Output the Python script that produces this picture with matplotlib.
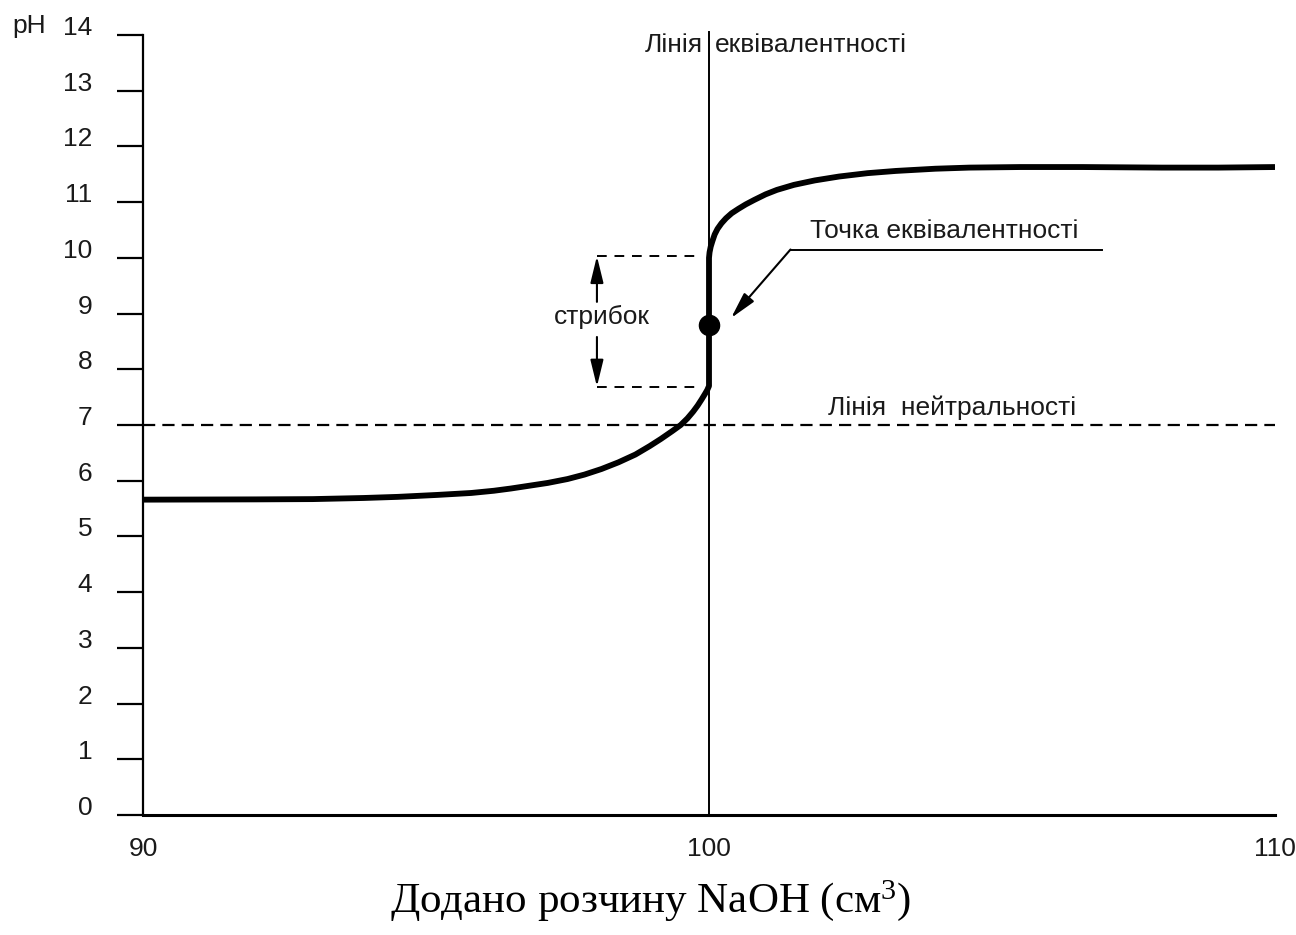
import matplotlib
matplotlib.use("Agg")
import matplotlib.pyplot as plt
from matplotlib import font_manager as fm

# ---- data ----
volume = [90, 92, 93, 93.9, 94.5, 95.2, 95.8, 96.2, 96.5, 97.15, 97.5, 97.8, 98.1,
          98.4, 98.7, 98.95, 99.15, 99.35, 99.5, 99.62, 99.72, 99.8, 99.87, 99.93,
          99.97, 100.0, 100.0, 100.0,
          100.01, 100.03, 100.06, 100.1, 100.15, 100.22, 100.3, 100.4, 100.52,
          100.65, 100.8, 101.0, 101.2, 101.5, 101.87, 102.3, 102.8, 103.3, 104.0,
          104.6, 105.5, 106.6, 108.0, 109.0, 110]
ph = [5.66, 5.665, 5.67, 5.69, 5.71, 5.745, 5.78, 5.82, 5.86, 5.96, 6.03, 6.11, 6.21,
      6.33, 6.47, 6.62, 6.75, 6.89, 7.0, 7.12, 7.24, 7.35, 7.46, 7.56,
      7.63, 7.7, 8.8, 10.0,
      10.1, 10.2, 10.3, 10.42, 10.52, 10.62, 10.71, 10.8, 10.88,
      10.96, 11.04, 11.14, 11.22, 11.31, 11.39, 11.46, 11.52, 11.56, 11.6,
      11.62, 11.63, 11.63, 11.62, 11.62, 11.63]

equiv_volume = 100
equiv_ph = 8.8
neutral_ph = 7
jump_low, jump_high = 7.69, 10.03
jump_x = 98.02

y_ticks = list(range(0, 15))
x_ticks = [90, 100, 110]

# ---- fonts ----
names = {f.name for f in fm.fontManager.ttflist}
sans = 'Liberation Sans Narrow' if 'Liberation Sans Narrow' in names else 'Liberation Sans'
serif = 'Liberation Serif'
plt.rcParams['font.family'] = [sans, 'DejaVu Sans']
plt.rcParams['mathtext.fontset'] = 'custom'
plt.rcParams['mathtext.rm'] = serif
plt.rcParams['mathtext.default'] = 'regular'

fs = 21 if sans.endswith('Narrow') else 19
txt = '#1a1a1a'

fig = plt.figure(figsize=(12.96, 9.35), dpi=100)
W, H = 1296, 935
ax = fig.add_axes([143 / W, 1 - 815 / H, (1275 - 143) / W, (815 - 35) / H])
ax.set_xlim(90, 110)
ax.set_ylim(0, 14)

for s in ['top', 'right']:
    ax.spines[s].set_visible(False)
ax.spines['left'].set_linewidth(1.6)
ax.spines['bottom'].set_linewidth(2.2)

ax.set_yticks(y_ticks)
ax.set_yticklabels([str(v) for v in y_ticks], fontsize=fs, color=txt, va='baseline')
ax.tick_params(axis='y', length=18.5, width=1.6, pad=18, direction='out')
ax.set_xticks(x_ticks)
ax.set_xticklabels([str(v) for v in x_ticks], fontsize=fs, color=txt)
ax.tick_params(axis='x', length=0, pad=16)

# neutral line
ax.axhline(neutral_ph, color='k', lw=1.6, ls=(0, (5.5, 3.2)), zorder=1)
# equivalence line
ax.plot([equiv_volume, equiv_volume], [0, 14.05], color='k', lw=1.4, clip_on=False, zorder=2)

# titration curve
ax.plot(volume, ph, color='k', lw=4.2, solid_joinstyle='round', solid_capstyle='butt', zorder=3)
ax.plot([equiv_volume], [equiv_ph], 'o', color='k', ms=14.5, zorder=4)

# jump bracket
ax.plot([jump_x, 99.8], [jump_high, jump_high], color='k', lw=1.4, ls=(0, (5, 4)))
ax.plot([jump_x, 99.8], [jump_low, jump_low], color='k', lw=1.4, ls=(0, (5, 4)))
ap = dict(arrowstyle='-|>,head_width=0.22,head_length=0.9', color='k', lw=1.5,
          mutation_scale=18, shrinkA=0, shrinkB=0)
ax.annotate('', xy=(jump_x, jump_high), xytext=(jump_x, 9.21), arrowprops=ap)
ax.annotate('', xy=(jump_x, jump_low), xytext=(jump_x, 8.58), arrowprops=ap)
ax.text(98.1, 8.93, 'стрибок', fontsize=fs, color=txt, ha='center', va='center')

# equivalence point leader
ax.plot([101.44, 106.94], [10.15, 10.15], color='k', lw=1.4)
ax.annotate('', xy=(100.39, 8.92), xytext=(101.44, 10.15), arrowprops=ap)
ax.text(101.78, 10.35, 'Точка еквівалентності', fontsize=fs, color=txt, ha='left', va='baseline')

# line labels
ax.text(99.9, 13.70, 'Лінія', fontsize=fs, color=txt, ha='right', va='baseline')
ax.text(100.1, 13.70, 'еквівалентності', fontsize=fs, color=txt, ha='left', va='baseline')
ax.text(102.1, 7.18, 'Лінія  нейтральності', fontsize=fs, color=txt, ha='left', va='baseline')

fig.text(12 / W, 1 - 33 / H, 'pH', fontsize=fs, color=txt, ha='left', va='baseline')
fig.text(651 / W, 1 - 912 / H, 'Додано розчину NaOH (см$^{3}$)', fontsize=31,
         family=[serif, 'DejaVu Serif'], color='k', ha='center', va='baseline')

fig.savefig('out.png', dpi=100)
